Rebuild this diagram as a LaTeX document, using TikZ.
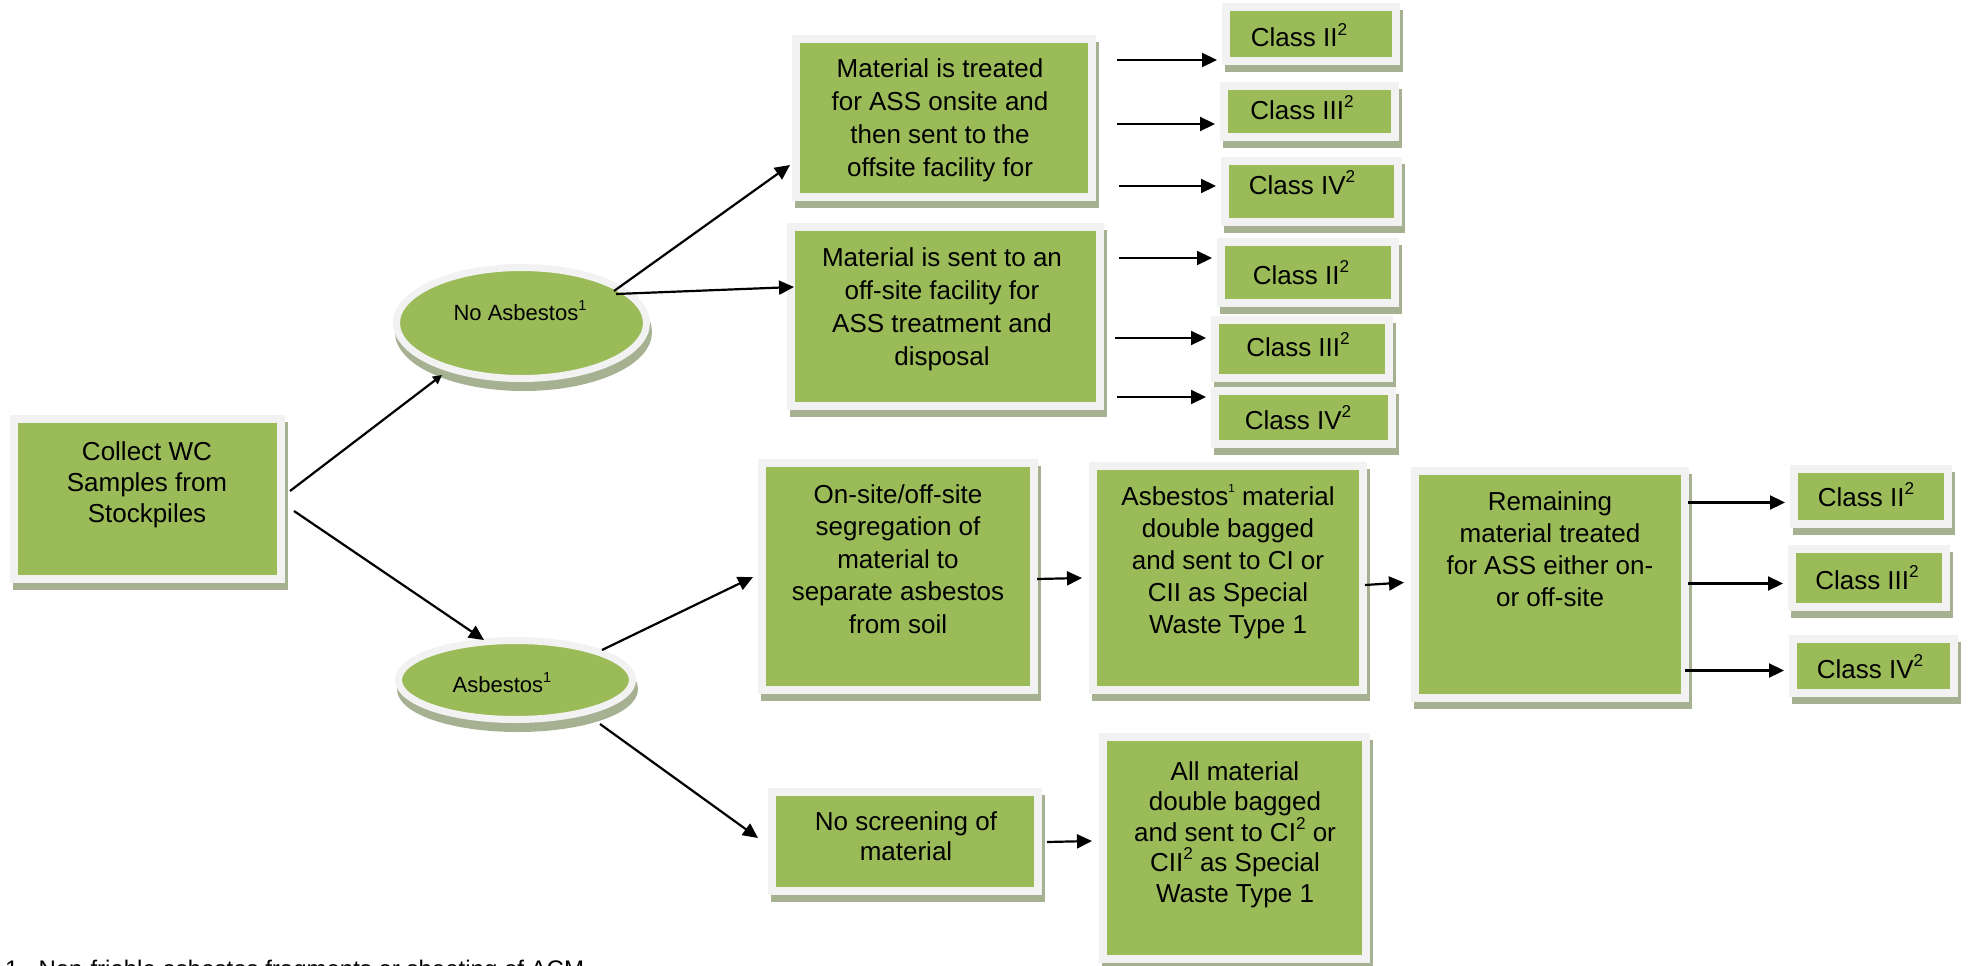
\documentclass[tikz,border=0pt]{standalone}
\usepackage{fontspec}
\usepackage{graphicx}
\setmainfont{Liberation Sans}
\usetikzlibrary{shapes.geometric,arrows.meta}
\definecolor{boxgreen}{RGB}{155,187,89}
\definecolor{framegray}{RGB}{242,242,242}
\definecolor{shadowcol}{RGB}{166,177,146}
\newcommand\supr[1]{\smash{\raisebox{0.45em}{\scalebox{0.66}{#1}}}}
\newcommand\supsm[1]{\smash{\raisebox{0.5em}{\scalebox{0.45}{#1}}}}
\begin{document}
\begin{tikzpicture}[x=1pt,y=-1pt,
  panel/.style={rectangle, draw=framegray, line width=8pt, fill=boxgreen, inner sep=0pt,
    preaction={fill=shadowcol, draw=shadowcol, line width=8pt, transform canvas={shift={(3pt,-7pt)}}}},
  oval/.style={ellipse, draw=framegray, line width=7pt, fill=boxgreen, inner sep=0pt,
    preaction={fill=shadowcol, draw=shadowcol, line width=7pt, transform canvas={shift={(2pt,-9pt)}}}},
  txt/.style={align=center, inner sep=0pt, anchor=north, font=\fontsize{26}{32.5}\selectfont},
  cls/.style={inner sep=0pt, anchor=base, font=\fontsize{26}{30}\selectfont},
  otx/.style={inner sep=0pt, anchor=base, font=\fontsize{22}{26}\selectfont},
  arr/.style={line width=2.2pt, -{Triangle[length=15pt,width=14pt]}},
  arrs/.style={line width=2.2pt, -{Triangle[length=9pt,width=9pt]}},
  arrh/.style={arr, shorten >=5pt}]
\useasboundingbox (0,0) rectangle (1968,966);
\fill[white] (0,0) rectangle (1968,966);

% left
\node[panel, minimum width=267pt, minimum height=160pt] (coll) at (147.5,499) {};
\node[txt, font=\fontsize{26}{31}\selectfont] (colltx) at (147,441) {Collect WC\\Samples from\\Stockpiles};

% ellipses
\node[oval, minimum width=250pt, minimum height=111pt] (noasb) at (521.5,323) {};
\node[otx] (noasbtx) at (520,320) {No Asbestos\supr{1}};
\node[oval, minimum width=234pt, minimum height=79pt] (asb) at (515.5,680) {};
\node[otx] (asbtx) at (502,692) {Asbestos\supr{1}};

% upper boxes
\node[panel, minimum width=296pt, minimum height=158pt] (t1) at (944,118) {};
\node[txt, font=\fontsize{26}{33}\selectfont] (t1tx) at (940,58) {Material is treated\\for ASS onsite and\\then sent to the\\offsite facility for};
\node[panel, minimum width=309pt, minimum height=179pt] (t2) at (945.5,316.5) {};
\node[txt, font=\fontsize{26}{33}\selectfont] (t2tx) at (942,247) {Material is sent to an\\off-site facility for\\ASS treatment and\\disposal};

% class boxes upper
\node[panel, minimum width=170pt, minimum height=54pt] (c1) at (1311,34) {};
\node[cls] (c1tx) at (1299,47) {Class II\supr{2}};
\node[panel, minimum width=171pt, minimum height=51pt] (c2) at (1309.5,111.5) {};
\node[cls] (c2tx) at (1302,119) {Class III\supr{2}};
\node[panel, minimum width=173pt, minimum height=61pt] (c3) at (1311.5,191.5) {};
\node[cls] (c3tx) at (1302,194) {Class IV\supr{2}};
\node[panel, minimum width=174pt, minimum height=61pt] (c4) at (1308,272.5) {};
\node[cls] (c4tx) at (1301,284) {Class II\supr{2}};
\node[panel, minimum width=174pt, minimum height=58pt] (c5) at (1302,349) {};
\node[cls] (c5tx) at (1298,356) {Class III\supr{2}};
\node[panel, minimum width=177pt, minimum height=53pt] (c6) at (1303.5,417.5) {};
\node[cls] (c6tx) at (1298,429) {Class IV\supr{2}};

% asbestos row
\node[panel, minimum width=272pt, minimum height=227pt] (f) at (898,576.5) {};
\node[txt] (ftx) at (898,484) {On-site/off-site\\segregation of\\material to\\separate asbestos\\from soil};
\node[panel, minimum width=270pt, minimum height=224pt] (g) at (1228,578) {};
\node[txt, font=\fontsize{26}{32}\selectfont] (gtx) at (1228,486) {Asbestos\supsm{1} material\\double bagged\\and sent to CI or\\CII as Special\\Waste Type 1};
\node[panel, minimum width=270pt, minimum height=227pt] (h) at (1550,584.5) {};
\node[txt, font=\fontsize{26}{32}\selectfont] (htx) at (1550,491) {Remaining\\material treated\\for ASS either on-\\or off-site};

\node[panel, minimum width=154pt, minimum height=55pt] (c7) at (1871,496.5) {};
\node[cls] (c7tx) at (1866,506) {Class II\supr{2}};
\node[panel, minimum width=154pt, minimum height=58pt] (c8) at (1869,578) {};
\node[cls] (c8tx) at (1867,589) {Class III\supr{2}};
\node[panel, minimum width=161pt, minimum height=54pt] (c9) at (1873.5,666) {};
\node[cls] (c9tx) at (1870,678) {Class IV\supr{2}};

% lower row
\node[panel, minimum width=266pt, minimum height=99pt] (i) at (905,841.5) {};
\node[txt, font=\fontsize{26}{30}\selectfont] (itx) at (906,811) {No screening of\\material};
\node[panel, minimum width=263pt, minimum height=222pt] (j) at (1234.5,848) {};
\node[txt, font=\fontsize{26}{30.5}\selectfont] (jtx) at (1235,761) {All material\\double bagged\\and sent to CI\supr{2} or\\CII\supr{2} as Special\\Waste Type 1};

% footnote (cut by the lower edge, as in the source)
\node[inner sep=0pt, anchor=base west, font=\fontsize{24}{28}\selectfont] (fn) at (5,977) {1\hspace{20pt}Non-friable asbestos fragments or sheeting of ACM};

% connectors
\draw[arrs] ([shift={(5,-8)}]coll.east) -- ([shift={(-79.5,52)}]noasb.center);
\draw[arr] ([shift={(9,12)}]coll.east) -- ([shift={(-31.5,-40)}]asb.center);
\draw[arr] ([shift={(92.5,-32)}]noasb.center) -- ([shift={(-154,47)}]t1.center);
\draw[arr] ([shift={(94.5,-29)}]noasb.center) -- ([shift={(-151.5,-29.5)}]t2.center);

\coordinate (s5) at ([shift={(21,-58)}]t1.east);
\coordinate (s6) at ([shift={(21,6)}]t1.east);
\coordinate (s7) at ([shift={(23,68)}]t1.east);
\coordinate (s8) at ([shift={(15,-58.5)}]t2.east);
\coordinate (s9) at ([shift={(11,21.5)}]t2.east);
\coordinate (s10) at ([shift={(13,80.5)}]t2.east);
\draw[arrh] (s5) -- (s5 -| c1.west);
\draw[arrh] (s6) -- (s6 -| c2.west);
\draw[arrh] (s7) -- (s7 -| c3.west);
\draw[arrh] (s8) -- (s8 -| c4.west);
\draw[arrh] (s9) -- (s9 -| c5.west);
\draw[arrh] (s10) -- (s10 -| c6.west);

\draw[arr] ([shift={(86.5,-30)}]asb.center) -- ([shift={(-5,0.5)}]f.west);
\draw[arr] ([shift={(84.5,44)}]asb.center) -- ([shift={(-10,-3.5)}]i.west);
\draw[arr] ([shift={(-1,2.5)}]f.east) -- ([shift={(-7,0)}]g.west);
\draw[arr] ([shift={(-2,7)}]g.east) -- ([shift={(-7,-2)}]h.west);

\coordinate (s15) at ([shift={(-1,-82)}]h.east);
\coordinate (s16) at ([shift={(-1,-1)}]h.east);
\coordinate (s17) at ([shift={(-4,86)}]h.east);
\draw[arrh] (s15) -- (s15 -| c7.west);
\draw[arrh] (s16) -- (s16 -| c8.west);
\draw[arrh] (s17) -- (s17 -| c9.west);

\draw[arr] ([shift={(5,0.5)}]i.east) -- ([shift={(-7,-7)}]j.west);
\end{tikzpicture}
\end{document}
